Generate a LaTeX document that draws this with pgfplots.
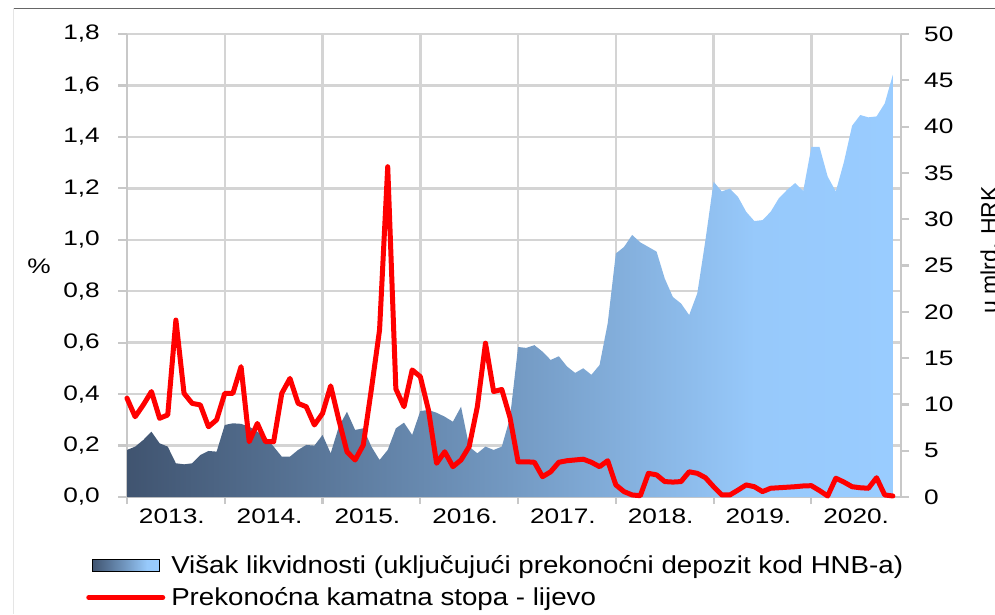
\documentclass[border=0pt]{standalone}
\usepackage{fontspec}
\setmainfont{Liberation Sans}[FakeStretch=1.13]
\newfontfamily\tickfont{Liberation Sans}[FakeStretch=1.25]
\newfontfamily\plainfont{Liberation Sans}
\usepackage{pgfplots}
\usepackage{pgfplotstable}
\pgfplotsset{compat=1.18}
\definecolor{gridc}{HTML}{D4D4D4}
\definecolor{axc}{HTML}{C8C8C8}
\definecolor{cA}{HTML}{405470}
\definecolor{cB}{HTML}{7399C2}
\definecolor{cC}{HTML}{97C9FB}
\definecolor{cD}{HTML}{99CCFF}
\pgfdeclarehorizontalshading{liq}{100bp}{color(0bp)=(cA); color(25bp)=(cA); color(50bp)=(cB); color(66bp)=(cC); color(75bp)=(cD); color(100bp)=(cD)}
\newcommand\ticksz{\tickfont\fontsize{21}{21}\selectfont}
\newcommand\legsz{\fontsize{24.5}{29}\selectfont}

\pgfplotstableread{
i r a
0 0.384 5.08
1 0.312 5.44
2 0.358 6.16
3 0.410 7.05
4 0.306 5.80
5 0.319 5.44
6 0.688 3.64
7 0.403 3.53
8 0.364 3.64
9 0.358 4.54
10 0.273 4.97
11 0.300 4.90
12 0.403 7.78
13 0.403 7.96
14 0.507 7.90
15 0.215 7.60
16 0.286 7.05
17 0.215 6.50
18 0.215 5.44
19 0.403 4.36
20 0.461 4.36
21 0.364 5.08
22 0.351 5.62
23 0.280 5.55
24 0.325 6.70
25 0.432 4.72
26 0.300 7.60
27 0.176 9.20
28 0.144 7.24
29 0.202 7.42
30 0.420 5.44
31 0.650 4.00
32 1.284 5.08
33 0.420 7.42
34 0.351 8.03
35 0.494 6.70
36 0.468 9.28
37 0.338 9.40
38 0.131 9.10
39 0.176 8.67
40 0.118 8.13
41 0.144 9.75
42 0.196 5.44
43 0.351 4.72
44 0.598 5.44
45 0.410 5.08
46 0.418 5.44
47 0.310 8.50
48 0.137 16.2
49 0.137 16.1
50 0.135 16.4
51 0.079 15.7
52 0.098 14.8
53 0.135 15.2
54 0.141 14.1
55 0.144 13.4
56 0.147 13.9
57 0.135 13.2
58 0.118 14.25
59 0.141 18.75
60 0.047 26.3
61 0.021 27.0
62 0.008 28.3
63 0.005 27.5
64 0.092 27.0
65 0.086 26.5
66 0.060 23.6
67 0.058 21.6
68 0.060 20.9
69 0.098 19.65
70 0.092 22.0
71 0.075 27.75
72 0.040 34.05
73 0.008 33.0
74 0.008 33.3
75 0.027 32.4
76 0.047 30.8
77 0.040 29.8
78 0.021 29.9
79 0.034 30.8
80 0.036 32.25
81 0.038 33.15
82 0.040 33.9
83 0.043 33.05
84 0.044 37.8
85 0.025 37.8
86 0.004 34.6
87 0.073 33.0
88 0.058 36.2
89 0.040 40.1
90 0.036 41.25
91 0.034 41.0
92 0.075 41.1
93 0.008 42.5
94 0.004 45.6
}\data

\pgfplotsset{base/.style={scale only axis, width=774pt, height=463pt,
  at={(127pt,117pt)}, anchor=south west, xmin=0, xmax=95}}

\begin{document}
\begin{tikzpicture}
\path[use as bounding box] (0,0) rectangle (995pt,614pt);
\draw[black!60, line width=1.5pt] (13pt,605.7pt) -- (995pt,605.7pt);
\draw[black!10, line width=1pt] (13pt,605.7pt) -- (13pt,0pt);

% left axis with grid
\begin{axis}[base, ymin=0, ymax=1.8,
  axis x line*=bottom, axis y line*=left,
  axis line style={draw=axc, line width=2.4pt},
  tick align=outside, major tick length=9pt, minor tick length=7pt,
  tick style={draw=axc, line width=2.2pt},
  major x tick style={draw=none},
  ytick={0,0.2,0.4,0.6,0.8,1.0,1.2,1.4,1.6,1.8},
  xtick={5.5,17.5,29.5,41.5,53.5,65.5,77.5,89.5},
  xticklabels={2013.,2014.,2015.,2016.,2017.,2018.,2019.,2020.},
  minor xtick={0,12,24,36,48,60,72,84},
  ymajorgrids=true, xminorgrids=true,
  grid style={draw=gridc, line width=2.4pt},
  major grid style={draw=gridc, line width=2.4pt},
  minor grid style={draw=gridc, line width=2.4pt},
  tick label style={font=\ticksz, inner sep=0pt},
  yticklabel style={/pgf/number format/.cd, fixed, fixed zerofill, precision=1, use comma, assume math mode=true, /tikz/.cd, anchor=east, xshift=-18pt},
  xticklabel style={anchor=north, yshift=-3pt},
]
\addplot[draw=none, forget plot] coordinates {(0,0) (95,1.8)};
\end{axis}

% right axis with area
\begin{axis}[base, ymin=0, ymax=50,
  axis x line=none, axis y line*=right,
  axis line style={draw=axc, line width=2.4pt},
  tick align=outside, major tick length=8pt,
  tick style={draw=axc, line width=2.2pt},
  ytick={0,5,...,50},
  tick label style={font=\ticksz, inner sep=0pt},
  yticklabel style={/pgf/number format/assume math mode=true, anchor=west, xshift=15pt},
]
\addplot[draw=none, shading=liq] table[x=i, y=a] {\data} \closedcycle;
\end{axis}

% red line and legend
\begin{axis}[base, ymin=0, ymax=1.8, hide axis, clip=false,
  legend style={at={(-0.0529,-0.1210)}, anchor=north west, draw=none, fill=none,
    inner sep=0pt, font=\legsz, row sep=9pt, column sep=4pt,
    cells={anchor=west}},
  legend cell align=left,
]
\addlegendimage{legend image code/.code={\path (0pt,0pt) (74pt,0pt);
  \shade[shading=liq] (3.7pt,-6pt) rectangle (70.3pt,6pt);}}
\addlegendentry{Višak likvidnosti (uključujući prekonoćni depozit kod HNB-a)}
\addplot[color=red, line width=5pt, line join=round, line cap=round,
  legend image code/.code={\draw[red, line width=5pt] (0pt,0pt) -- (74pt,0pt);}]
  table[x=i, y=r] {\data};
\addlegendentry{Prekonoćna kamatna stopa - lijevo}
\end{axis}

\node[font=\ticksz] at (39pt,348pt) {\%};
\node[font=\plainfont\fontsize{23}{23}\selectfont, rotate=90, anchor=base] at (997pt,364pt) {u mlrd. HRK};
\end{tikzpicture}
\end{document}
